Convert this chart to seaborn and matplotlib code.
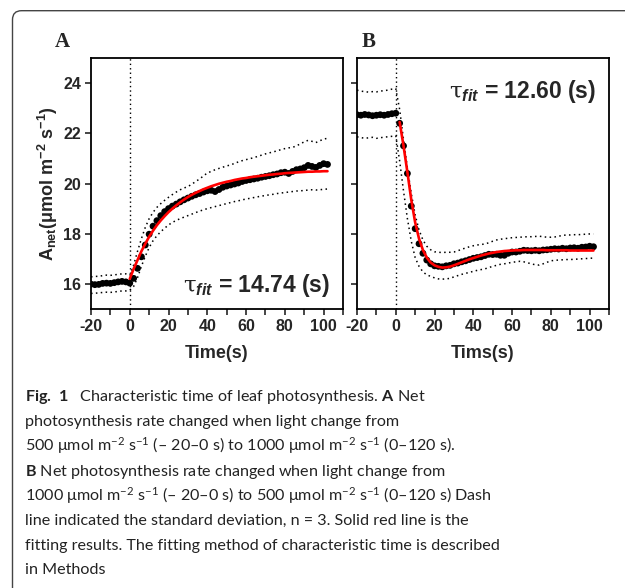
import numpy as np
import pandas as pd
import seaborn as sns
import matplotlib.pyplot as plt
from matplotlib.patches import FancyBboxPatch
from matplotlib.ticker import MultipleLocator

# -----------------------------
# Data (time step 2 s)
# -----------------------------
time = np.arange(-20, 103, 2)
time_fit_a = np.arange(0, 103, 2)
time_fit_b = np.arange(2, 103, 2)

# Panel A: 500 -> 1000 umol m-2 s-1
a_mean = [15.99, 15.97, 15.98, 16.02, 16.03, 16.02, 16.05, 16.08, 16.10, 16.08,
          16.03, 16.22, 16.62, 17.08, 17.55, 17.98, 18.30, 18.52, 18.72, 18.88,
          19.00, 19.10, 19.18, 19.27, 19.35, 19.42, 19.49, 19.55, 19.60, 19.66,
          19.71, 19.73, 19.68, 19.76, 19.85, 19.90, 19.94, 19.98, 20.02, 20.08,
          20.12, 20.15, 20.18, 20.21, 20.25, 20.28, 20.31, 20.35, 20.38, 20.43,
          20.45, 20.40, 20.48, 20.55, 20.58, 20.63, 20.72, 20.68, 20.64, 20.72,
          20.79, 20.76]
a_upper = [16.28, 16.30, 16.30, 16.33, 16.35, 16.34, 16.36, 16.38, 16.40, 16.40,
           16.35, 16.75, 17.30, 17.80, 18.25, 18.60, 18.85, 19.05, 19.20, 19.33,
           19.45, 19.56, 19.66, 19.75, 19.82, 19.88, 19.97, 20.08, 20.18, 20.30,
           20.42, 20.48, 20.55, 20.60, 20.65, 20.70, 20.74, 20.80, 20.86, 20.91,
           20.95, 20.99, 21.03, 21.08, 21.13, 21.18, 21.22, 21.26, 21.30, 21.35,
           21.39, 21.42, 21.44, 21.50, 21.58, 21.66, 21.72, 21.68, 21.63, 21.70,
           21.77, 21.80]
a_lower = [15.62, 15.63, 15.64, 15.66, 15.67, 15.66, 15.68, 15.70, 15.72, 15.72,
           15.75, 15.90, 16.25, 16.70, 17.10, 17.45, 17.72, 17.92, 18.08, 18.22,
           18.35, 18.45, 18.53, 18.60, 18.66, 18.72, 18.78, 18.84, 18.90, 18.95,
           19.00, 19.04, 19.08, 19.12, 19.16, 19.20, 19.24, 19.28, 19.31, 19.35,
           19.38, 19.41, 19.44, 19.47, 19.50, 19.52, 19.55, 19.57, 19.60, 19.62,
           19.64, 19.66, 19.68, 19.70, 19.71, 19.72, 19.74, 19.75, 19.74, 19.75,
           19.77, 19.78]
a_fit = [16.20, 16.60, 16.95, 17.30, 17.60, 17.88, 18.12, 18.34, 18.53, 18.70,
         18.86, 19.00, 19.13, 19.25, 19.36, 19.46, 19.55, 19.63, 19.70, 19.77,
         19.83, 19.89, 19.94, 19.99, 20.03, 20.07, 20.10, 20.14, 20.17, 20.20,
         20.22, 20.25, 20.27, 20.29, 20.31, 20.33, 20.35, 20.36, 20.38, 20.39,
         20.41, 20.42, 20.43, 20.44, 20.45, 20.46, 20.47, 20.47, 20.48, 20.48,
         20.49, 20.49]

# Panel B: 1000 -> 500 umol m-2 s-1
b_mean = [22.74, 22.72, 22.75, 22.73, 22.70, 22.72, 22.74, 22.72, 22.75, 22.78,
          22.80, 22.40, 21.50, 20.40, 19.10, 18.20, 17.60, 17.22, 16.95, 16.80,
          16.72, 16.70, 16.68, 16.72, 16.74, 16.80, 16.83, 16.88, 16.92, 16.97,
          17.02, 17.05, 17.08, 17.13, 17.18, 17.17, 17.18, 17.14, 17.14, 17.22,
          17.27, 17.27, 17.30, 17.34, 17.33, 17.32, 17.34, 17.32, 17.35, 17.36,
          17.38, 17.40, 17.39, 17.42, 17.40, 17.43, 17.44, 17.42, 17.46, 17.47,
          17.50, 17.48]
b_upper = [23.72, 23.68, 23.66, 23.64, 23.66, 23.65, 23.68, 23.70, 23.72, 23.76,
           23.78, 22.95, 21.75, 20.62, 19.60, 18.75, 18.15, 17.75, 17.50, 17.36,
           17.28, 17.26, 17.25, 17.26, 17.26, 17.27, 17.32, 17.38, 17.43, 17.48,
           17.52, 17.55, 17.57, 17.59, 17.64, 17.70, 17.75, 17.78, 17.80, 17.82,
           17.84, 17.85, 17.86, 17.87, 17.88, 17.88, 17.89, 17.90, 17.88, 17.86,
           17.86, 17.87, 17.90, 17.93, 17.95, 17.95, 17.96, 17.96, 17.97, 17.98,
           17.99, 17.99]
b_lower = [21.86, 21.83, 21.80, 21.82, 21.84, 21.80, 21.82, 21.85, 21.86, 21.88,
           21.90, 20.90, 19.70, 18.60, 17.70, 17.05, 16.70, 16.48, 16.36, 16.30,
           16.24, 16.20, 16.19, 16.20, 16.22, 16.28, 16.33, 16.38, 16.42, 16.46,
           16.50, 16.54, 16.57, 16.60, 16.65, 16.70, 16.74, 16.78, 16.80, 16.83,
           16.86, 16.88, 16.90, 16.88, 16.84, 16.80, 16.76, 16.75, 16.80, 16.86,
           16.92, 16.94, 16.95, 16.96, 16.97, 16.97, 16.98, 16.99, 17.00, 17.01,
           17.02, 17.03]
b_fit = [22.45, 21.50, 20.45, 19.35, 18.45, 17.80, 17.35, 17.05, 16.85, 16.74,
         16.68, 16.65, 16.66, 16.69, 16.74, 16.80, 16.86, 16.92, 16.98, 17.03,
         17.08, 17.13, 17.17, 17.21, 17.24, 17.27, 17.29, 17.31, 17.32, 17.33,
         17.34, 17.34, 17.35, 17.35, 17.35, 17.35, 17.35, 17.35, 17.34, 17.34,
         17.34, 17.34, 17.34, 17.34, 17.33, 17.33, 17.33, 17.33, 17.33, 17.33,
         17.33]

panels = [
    ("A", a_mean, a_upper, a_lower, time_fit_a, a_fit, "Time(s)", "14.74"),
    ("B", b_mean, b_upper, b_lower, time_fit_b, b_fit, "Tims(s)", "12.60"),
]

caption_lines = [
    r"$\mathbf{Fig.\ 1}$   Characteristic time of leaf photosynthesis. $\mathbf{A}$ Net",
    r"photosynthesis rate changed when light change from",
    r"500 μmol m$^{-2}$ s$^{-1}$ (– 20–0 s) to 1000 μmol m$^{-2}$ s$^{-1}$ (0–120 s).",
    r"$\mathbf{B}$ Net photosynthesis rate changed when light change from",
    r"1000 μmol m$^{-2}$ s$^{-1}$ (– 20–0 s) to 500 μmol m$^{-2}$ s$^{-1}$ (0–120 s) Dash",
    r"line indicated the standard deviation, n = 3. Solid red line is the",
    r"fitting results. The fitting method of characteristic time is described",
    r"in Methods",
]

# -----------------------------
# Style
# -----------------------------
sns.set_style("ticks")
plt.rcParams['font.family'] = ['Liberation Sans', 'DejaVu Sans']
plt.rcParams['axes.unicode_minus'] = False
plt.rcParams['mathtext.fontset'] = 'custom'
plt.rcParams['mathtext.default'] = 'regular'
plt.rcParams['mathtext.rm'] = 'DejaVu Serif'
plt.rcParams['mathtext.it'] = 'Liberation Sans:italic:bold'
plt.rcParams['mathtext.bf'] = 'Lato:bold'

W, H = 625, 588
fig = plt.figure(figsize=(W / 100, H / 100), dpi=100)
fig.patch.set_facecolor("white")

# rounded frame around the figure
frame = FancyBboxPatch((0.125, -1.0), 8.0, H / 100 - 0.107 + 1.0,
                       boxstyle="round,pad=0,rounding_size=0.09",
                       transform=fig.dpi_scale_trans, fill=False,
                       ec="#444444", lw=1.0, clip_on=False)
fig.add_artist(frame)

dotted = (0, (1, 2.2))
lefts = [91, 357]
for i, (letter, mean, upper, lower, tfit, fit, xlab, tau) in enumerate(panels):
    ax = fig.add_axes([lefts[i] / W, 1 - 309 / H, 252 / W, 251 / H])
    df = pd.DataFrame({"t": time, "mean": mean, "upper": upper, "lower": lower})
    df_fit = pd.DataFrame({"t": tfit, "fit": fit})

    ax.axvline(0, color="black", ls=dotted, lw=1.0, zorder=1)
    sns.lineplot(data=df, x="t", y="upper", color="black", lw=1.1, ls=dotted, ax=ax, zorder=2)
    sns.lineplot(data=df, x="t", y="lower", color="black", lw=1.1, ls=dotted, ax=ax, zorder=2)
    sns.scatterplot(data=df, x="t", y="mean", color="black", s=24, edgecolor="none", ax=ax, zorder=3)
    sns.lineplot(data=df_fit, x="t", y="fit", color="red", lw=1.9, ax=ax, zorder=4)

    ax.set_xlim(-20, 110)
    ax.set_ylim(15, 25)
    ax.set_xticks([-20, 0, 20, 40, 60, 80, 100])
    ax.xaxis.set_minor_locator(MultipleLocator(10))
    ax.set_yticks([16, 18, 20, 22, 24])
    ax.tick_params(which="both", direction="out", length=4, width=1.2, labelsize=11.5, pad=3)
    for lab in ax.get_xticklabels() + ax.get_yticklabels():
        lab.set_fontweight("bold")
    for sp in ax.spines.values():
        sp.set_linewidth(1.3)
        sp.set_color("black")

    ax.set_xlabel(xlab, fontsize=13, fontweight="bold")
    ax.xaxis.set_label_coords(0.5, -0.145)
    if i == 0:
        ax.set_ylabel(r"A$_{net}$(μmol m$^{-2}$ s$^{-1}$)", fontsize=13, fontweight="bold")
        ax.yaxis.set_label_coords(-0.125, 0.5)
    else:
        ax.set_ylabel("")
        ax.set_yticklabels([])

    if i == 0:
        ax.text(103.5, 15.93, r"$\mathrm{\tau}_{\mathit{fit}}$ = " + tau + " (s)",
                ha="right", va="center", fontsize=16.5, fontweight="bold")
    else:
        ax.text(103.5, 23.65, r"$\mathrm{\tau}_{\mathit{fit}}$ = " + tau + " (s)",
                ha="right", va="center", fontsize=16.5, fontweight="bold")

# panel letters
fig.text(55 / W, 1 - 47 / H, "A", family="Liberation Serif", fontweight="bold", fontsize=15)
fig.text(362 / W, 1 - 47 / H, "B", family="Liberation Serif", fontweight="bold", fontsize=15)

# caption
for k, line in enumerate(caption_lines):
    fig.text(25 / W, 1 - (401.5 + 24.7 * k) / H, line, fontsize=11.6,
             family=["Lato", "DejaVu Sans"], color="#222222", va="baseline", ha="left")

fig.savefig("out.png", dpi=100, facecolor="white")
